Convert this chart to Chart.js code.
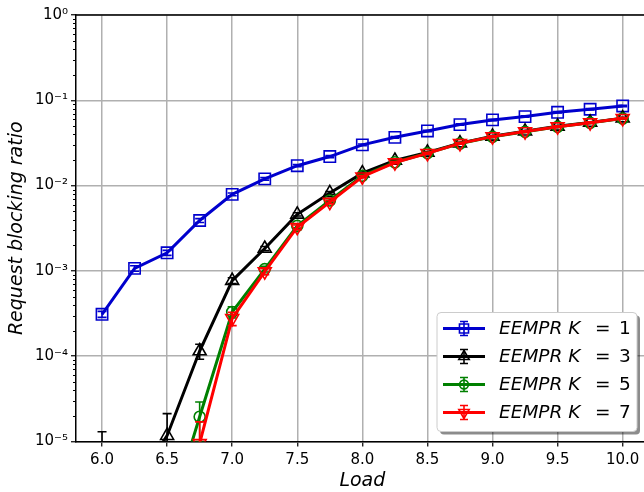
<!DOCTYPE html>
<html>
<head>
<meta charset="utf-8">
<script src="https://cdn.jsdelivr.net/npm/chart.js@4.4.1/dist/chart.umd.min.js"></script>
<style>
html, body { margin:0; padding:0; background:#fff; width:644px; height:492px; overflow:hidden; }
#grafica_bloqueo { display:block; }
</style>
</head>
<body>
<canvas id="grafica_bloqueo" width="660" height="492" style="width:660px;height:492px"></canvas>
<script>
var cargas = [6.0, 6.25, 6.5, 6.75, 7.0, 7.25, 7.5, 7.75, 8.0, 8.25, 8.5, 8.75, 9.0, 9.25, 9.5, 9.75, 10.0];

var bloqueoK1 = [3.1e-4, 1.07e-3, 1.63e-3, 3.9e-3, 7.9e-3, 1.2e-2, 1.71e-2, 2.19e-2, 3.0e-2, 3.68e-2, 4.37e-2, 5.19e-2, 5.89e-2, 6.44e-2, 7.23e-2, 7.85e-2, 8.59e-2];
var errorK1   = [2.5e-5, 8e-5, 1.1e-4, 2e-4, 3e-4, 4e-4, 5e-4, 6e-4, 7e-4, 8e-4, 9e-4, 1e-3, 1.1e-3, 1.2e-3, 1.3e-3, 1.4e-3, 1.5e-3];

var bloqueoK3 = [6.5e-6, 3e-6, 1.17e-5, 1.15e-4, 7.7e-4, 1.83e-3, 4.6e-3, 8.2e-3, 1.4e-2, 1.97e-2, 2.45e-2, 3.15e-2, 3.78e-2, 4.33e-2, 4.95e-2, 5.5e-2, 6.18e-2];
var errorK3   = [6.5e-6, 3e-6, 9.5e-6, 2.3e-5, 6e-5, 1e-4, 2e-4, 3e-4, 4e-4, 5e-4, 6e-4, 7e-4, 8e-4, 9e-4, 1e-3, 1.1e-3, 1.2e-3];

var bloqueoK5 = [null, null, 1.1e-6, 1.95e-5, 3.3e-4, 1.05e-3, 3.37e-3, 6.7e-3, 1.3e-2, 1.88e-2, 2.4e-2, 3.12e-2, 3.74e-2, 4.28e-2, 4.9e-2, 5.45e-2, 6.12e-2];
var errorK5   = [null, null, 1e-6, 9.5e-6, 5e-5, 8e-5, 2e-4, 3e-4, 4e-4, 5e-4, 6e-4, 7e-4, 8e-4, 9e-4, 1e-3, 1.1e-3, 1.2e-3];

var bloqueoK7 = [null, null, null, 9.5e-6, 2.78e-4, 9.8e-4, 3.25e-3, 6.4e-3, 1.27e-2, 1.86e-2, 2.39e-2, 3.13e-2, 3.75e-2, 4.3e-2, 4.91e-2, 5.47e-2, 6.15e-2];
var errorK7   = [null, null, null, 7.5e-6, 5e-5, 8e-5, 2e-4, 3e-4, 4e-4, 5e-4, 6e-4, 7e-4, 8e-4, 9e-4, 1e-3, 1.1e-3, 1.2e-3];

var etiquetasSerie = ['EEMPR K = 1', 'EEMPR K = 3', 'EEMPR K = 5', 'EEMPR K = 7'];

var ticksCarga = [6.0, 6.5, 7.0, 7.5, 8.0, 8.5, 9.0, 9.5, 10.0];
var decadas = [-5, -4, -3, -2, -1, 0];
var etiquetasDecada = ['10\u207B\u2075', '10\u207B\u2074', '10\u207B\u00B3', '10\u207B\u00B2', '10\u207B\u00B9', '10\u2070'];

Chart.defaults.font.family = "'DejaVu Sans', sans-serif";

function serie(etiqueta, valores, errores, color, estilo, radio, rotacion, orden){
    var puntos = [];
    cargas.forEach(function(c, i){
        puntos.push({x: c, y: valores[i]});
    });
    return {
        label: etiqueta,
        data: puntos,
        errores: errores,
        borderColor: color,
        backgroundColor: color,
        borderWidth: 3,
        pointStyle: estilo,
        pointRadius: radio,
        pointRotation: rotacion,
        pointBorderWidth: 1.6,
        pointBorderColor: color,
        pointBackgroundColor: 'rgba(0,0,0,0)',
        fill: false,
        tension: 0,
        clip: 0,
        order: orden,
        spanGaps: false
    };
}

//--barras de error dibujadas con la escala y
var barrasError = {
    id: 'barrasError',
    afterDatasetDraw: function(chart, args){
        var ds = chart.data.datasets[args.index];
        var area = chart.chartArea;
        var escalaY = chart.scales.y;
        var ctx = chart.ctx;
        ctx.save();
        ctx.beginPath();
        ctx.rect(area.left, area.top, area.right - area.left, area.bottom - area.top);
        ctx.clip();
        ctx.strokeStyle = ds.borderColor;
        ctx.lineWidth = 1.6;
        args.meta.data.forEach(function(p, i){
            var v = ds.data[i].y;
            var e = ds.errores[i];
            if(v == null || e == null) return;
            var yAlto = escalaY.getPixelForValue(v + e);
            var yBajo = (v - e) > 0 ? escalaY.getPixelForValue(v - e) : area.bottom + 20;
            ctx.beginPath();
            ctx.moveTo(p.x, yAlto);
            ctx.lineTo(p.x, yBajo);
            ctx.moveTo(p.x - 4.5, yAlto);
            ctx.lineTo(p.x + 4.5, yAlto);
            ctx.moveTo(p.x - 4.5, yBajo);
            ctx.lineTo(p.x + 4.5, yBajo);
            ctx.stroke();
        });
        ctx.restore();
    }
};

//--marco superior, ticks menores y leyenda
var marcoLeyenda = {
    id: 'marcoLeyenda',
    afterDraw: function(chart){
        var ctx = chart.ctx;
        var area = chart.chartArea;
        var escalaY = chart.scales.y;
        ctx.save();
        ctx.strokeStyle = '#000';
        ctx.lineWidth = 1.5;
        ctx.beginPath();
        ctx.moveTo(area.left, area.top);
        ctx.lineTo(area.right, area.top);
        ctx.lineTo(area.right, area.bottom);
        ctx.stroke();

        ctx.lineWidth = 1;
        escalaY.ticks.forEach(function(t){
            if(t.major) return;
            var y = Math.round(escalaY.getPixelForValue(t.value)) + 0.5;
            ctx.beginPath();
            ctx.moveTo(area.left - 3, y);
            ctx.lineTo(area.left, y);
            ctx.stroke();
        });

        //--caja de la leyenda
        var x0 = 437, y0 = 312.5, w = 200, h = 119;
        ctx.fillStyle = 'rgba(0,0,0,0.45)';
        cajaRedonda(ctx, x0 + 3, y0 + 3, w, h, 4);
        ctx.fill();
        ctx.fillStyle = '#fff';
        cajaRedonda(ctx, x0, y0, w, h, 4);
        ctx.fill();
        ctx.strokeStyle = '#cccccc';
        ctx.lineWidth = 1;
        ctx.stroke();

        chart.data.datasets.forEach(function(ds, i){
            var y = y0 + 16 + i * 28;
            var xm = x0 + 27;
            ctx.strokeStyle = ds.borderColor;
            ctx.lineWidth = 3;
            ctx.beginPath();
            ctx.moveTo(x0 + 6, y);
            ctx.lineTo(x0 + 48, y);
            ctx.stroke();
            ctx.lineWidth = 1.6;
            ctx.beginPath();
            ctx.moveTo(xm, y - 7);
            ctx.lineTo(xm, y + 7);
            ctx.moveTo(xm - 4, y - 7);
            ctx.lineTo(xm + 4, y - 7);
            ctx.moveTo(xm - 4, y + 7);
            ctx.lineTo(xm + 4, y + 7);
            ctx.stroke();
            ctx.fillStyle = 'rgba(0,0,0,0)';
            Chart.helpers.drawPoint(ctx, {
                pointStyle: ds.pointStyle,
                rotation: ds.pointRotation,
                borderWidth: 1.6,
                radius: ds.pointRadius * 0.8
            }, xm, y);

            var partes = ds.label.split(' = ');
            ctx.fillStyle = '#000';
            ctx.textBaseline = 'middle';
            ctx.font = "italic 18.5px 'DejaVu Sans'";
            ctx.fillText(partes[0], x0 + 62, y + 1);
            ctx.font = "18.5px 'DejaVu Sans'";
            ctx.fillText('=', x0 + 158, y + 1);
            ctx.fillText(partes[1], x0 + 182, y + 1);
        });
        ctx.restore();
    }
};

function cajaRedonda(ctx, x, y, w, h, r){
    ctx.beginPath();
    ctx.moveTo(x + r, y);
    ctx.lineTo(x + w - r, y);
    ctx.quadraticCurveTo(x + w, y, x + w, y + r);
    ctx.lineTo(x + w, y + h - r);
    ctx.quadraticCurveTo(x + w, y + h, x + w - r, y + h);
    ctx.lineTo(x + r, y + h);
    ctx.quadraticCurveTo(x, y + h, x, y + h - r);
    ctx.lineTo(x, y + r);
    ctx.quadraticCurveTo(x, y, x + r, y);
    ctx.closePath();
}

function ticksLog(scale){
    var lista = [];
    decadas.forEach(function(d){
        lista.push({value: Math.pow(10, d), major: true});
        if(d < 0){
            for(var m = 2; m <= 9; m++){
                lista.push({value: m * Math.pow(10, d), major: false});
            }
        }
    });
    scale.ticks = lista;
}

var fuenteTicks = {family: "'DejaVu Sans', sans-serif", size: 15};
var fuenteTitulo = {family: "'DejaVu Sans', sans-serif", size: 19, style: 'italic'};

var lienzo = document.getElementById('grafica_bloqueo');
var graficaBloqueo = new Chart(lienzo, {
    type: 'line',
    data: {
        datasets: [
            serie(etiquetasSerie[0], bloqueoK1, errorK1, '#0000cd', 'rect', 8, 0, 4),
            serie(etiquetasSerie[1], bloqueoK3, errorK3, '#000000', 'triangle', 7.5, 0, 3),
            serie(etiquetasSerie[2], bloqueoK5, errorK5, '#008000', 'circle', 5.5, 0, 2),
            serie(etiquetasSerie[3], bloqueoK7, errorK7, '#ff0000', 'triangle', 7.5, 180, 1)
        ]
    },
    options: {
        responsive: false,
        animation: false,
        devicePixelRatio: 1,
        layout: { padding: { top: 15, right: 11.3, left: 0, bottom: 0 } },
        plugins: {
            legend: { display: false },
            tooltip: { enabled: false }
        },
        scales: {
            x: {
                type: 'linear',
                min: 5.8,
                max: 10.2,
                afterBuildTicks: function(scale){
                    scale.ticks = ticksCarga.map(function(v){ return {value: v}; });
                },
                afterFit: function(scale){ scale.height = 50.5; },
                ticks: {
                    autoSkip: false,
                    maxRotation: 0,
                    padding: 5,
                    color: '#000',
                    font: fuenteTicks,
                    callback: function(v){ return Number(v).toFixed(1); }
                },
                grid: { color: '#b0b0b0', lineWidth: 1.5, tickLength: 5, tickColor: '#000', tickWidth: 1.2 },
                border: { color: '#000', width: 1.5 },
                title: { display: true, text: 'Load', color: '#000', font: fuenteTitulo, padding: { top: 0, bottom: 0 } }
            },
            y: {
                type: 'logarithmic',
                min: 1e-5,
                max: 1,
                afterBuildTicks: ticksLog,
                afterFit: function(scale){ scale.width = 76; },
                ticks: {
                    autoSkip: false,
                    padding: 3,
                    color: '#000',
                    font: fuenteTicks,
                    callback: function(v, i, ticks){
                        var d = decadas.indexOf(Math.round(Math.log10(v)));
                        if(ticks[i].major && d >= 0) return etiquetasDecada[d];
                        return '';
                    }
                },
                grid: {
                    lineWidth: 1.5,
                    tickLength: 5,
                    tickWidth: 1.2,
                    color: function(c){ return (c.tick && c.tick.major) ? '#b0b0b0' : 'rgba(0,0,0,0)'; },
                    tickColor: function(c){ return (c.tick && c.tick.major) ? '#000' : 'rgba(0,0,0,0)'; }
                },
                border: { color: '#000', width: 1.5 },
                title: { display: true, text: 'Request blocking ratio', color: '#000', font: fuenteTitulo, padding: { top: 6, bottom: 4 } }
            }
        }
    },
    plugins: [barrasError, marcoLeyenda]
});
</script>
</body>
</html>
